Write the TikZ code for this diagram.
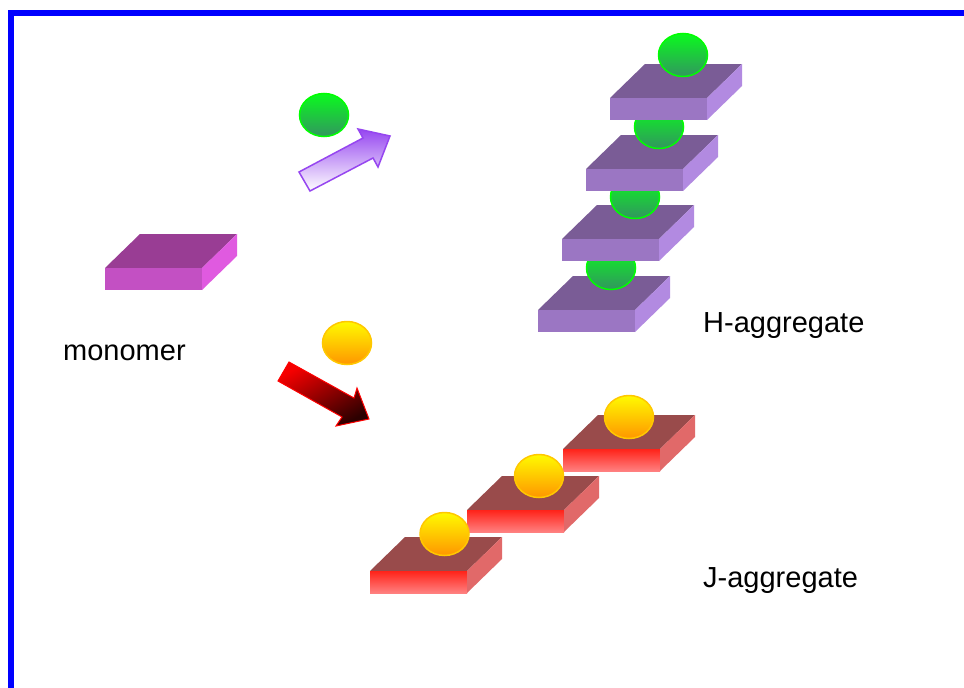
\documentclass[tikz,border=0pt]{standalone}
\usepackage{fontspec}
\setmainfont{Liberation Sans}
\definecolor{frameblue}{RGB}{0,0,255}
\definecolor{monotop}{RGB}{153,61,148}
\definecolor{monofront}{RGB}{195,80,195}
\definecolor{monoside}{RGB}{224,90,224}
\definecolor{htop}{RGB}{122,92,150}
\definecolor{hfront}{RGB}{155,118,195}
\definecolor{hside}{RGB}{178,138,225}
\definecolor{jtop}{RGB}{153,75,75}
\definecolor{jfronttop}{RGB}{255,35,25}
\definecolor{jfrontbot}{RGB}{255,128,128}
\definecolor{jside}{RGB}{225,105,105}
\definecolor{gtop}{RGB}{10,250,30}
\definecolor{gbot}{RGB}{50,150,95}
\definecolor{gedge}{RGB}{0,255,0}
\definecolor{otop}{RGB}{255,250,0}
\definecolor{obot}{RGB}{255,150,0}
\definecolor{oedge}{RGB}{255,200,0}
\definecolor{parrow}{RGB}{150,70,240}
\definecolor{rarrowtop}{RGB}{245,0,0}
\definecolor{rarrowbot}{RGB}{45,0,0}
\tikzset{
  monotopf/.style={fill=monotop},
  monofrontf/.style={fill=monofront},
  monosidef/.style={fill=monoside},
  htopf/.style={fill=htop},
  hfrontf/.style={fill=hfront},
  hsidef/.style={fill=hside},
  jtopf/.style={fill=jtop},
  jfrontf/.style={top color=jfronttop,bottom color=jfrontbot},
  jsidef/.style={fill=jside},
  greenball/.style={draw=gedge,line width=1.5pt,top color=gtop,bottom color=gbot},
  orangeball/.style={draw=oedge,line width=1.5pt,top color=otop,bottom color=obot},
  label/.style={font=\fontsize{29}{34}\selectfont,inner sep=0pt,anchor=base west},
}
\newcommand{\myslab}[5]{%
  \begin{scope}[shift={(#1,#2)}]
    \path[#3] (0,0) -- (35,-34) -- (132,-34) -- (97,0) -- cycle;
    \path[#4] (0,0) rectangle (97,22);
    \path[#5] (97,0) -- (132,-34) -- (132,-12) -- (97,22) -- cycle;
  \end{scope}}
\newcommand{\myball}[3]{\path[#3] (#1,#2) ellipse [x radius=24.5, y radius=21.5];}
\begin{document}
\begin{tikzpicture}[x=1pt,y=-1pt]
\useasboundingbox (0,0) rectangle (964,688);
\fill[white] (0,0) rectangle (964,688);
% frame
\draw[frameblue,line width=6pt] (11,688) -- (11,13) -- (964,13);
% monomer
\myslab{105}{268}{monotopf}{monofrontf}{monosidef}
\node[label] (mono) at (63,360) {monomer};
% isolated balls
\myball{324}{115}{greenball}
\myball{347}{343}{orangeball}
% purple arrow
\path[draw=parrow,line width=1.5pt,top color=parrow,bottom color=white]
  (299,172) -- (363,138) -- (358,129) -- (390,136) -- (378,167) -- (373,158) -- (310,191) -- cycle;
% red arrow
\path[draw=red,line width=1pt,top color=rarrowtop,bottom color=rarrowbot,shading angle=30]
  (289,362) -- (354,398) -- (357,388) -- (369,419) -- (336,426) -- (342,417) -- (278,381) -- cycle;
% H-aggregate
\myslab{538}{310}{htopf}{hfrontf}{hsidef}
\myball{611}{268}{greenball}
\myslab{562}{239}{htopf}{hfrontf}{hsidef}
\myball{635}{197}{greenball}
\myslab{586}{169}{htopf}{hfrontf}{hsidef}
\myball{659}{127}{greenball}
\myslab{610}{98}{htopf}{hfrontf}{hsidef}
\myball{683}{55}{greenball}
\node[label] (hagg) at (703,332) {H-aggregate};
% J-aggregate
\myslab{563}{449}{jtopf}{jfrontf}{jsidef}
\myball{629}{417}{orangeball}
\myslab{467}{510}{jtopf}{jfrontf}{jsidef}
\myball{539}{476}{orangeball}
\myslab{370}{571}{jtopf}{jfrontf}{jsidef}
\myball{444.5}{534}{orangeball}
\node[label] (jagg) at (703,587) {J-aggregate};
\end{tikzpicture}
\end{document}
